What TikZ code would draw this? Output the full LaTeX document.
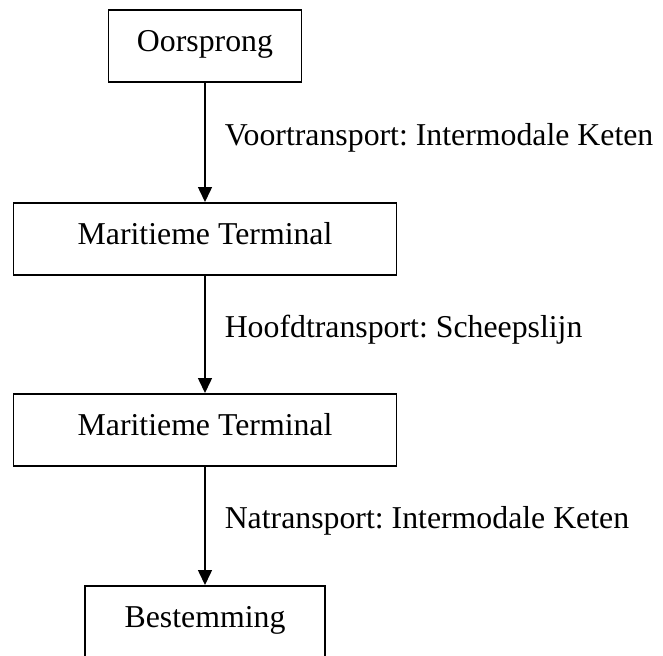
\documentclass[tikz,border=0pt]{standalone}
\usepackage{fontspec}
\setmainfont{Liberation Serif}
\usetikzlibrary{arrows.meta}
\frenchspacing

\begin{document}
\begin{tikzpicture}[
  x=1pt, y=1pt,
  every node/.style={font=\fontsize{15.9pt}{18pt}\selectfont},
  stagebox/.style={draw, line width=0.75pt, inner sep=0pt,
                   text height=21pt, text depth=15pt, anchor=north},
  flow/.style={line width=0.75pt, -{Triangle[length=7.5pt,width=7pt]}},
  flowlabel/.style={midway, anchor=base west, xshift=9.5pt, yshift=-1.5pt, inner sep=0pt}
]
  \useasboundingbox (0,0) rectangle (331.5,-327.5);

  % chain of stages, top to bottom
  \node[stagebox, minimum width=96.5pt]  (orig)  at (102.5,-4.5)   {Oorsprong};
  \node[stagebox, minimum width=191.5pt] (term1) at (102.5,-101)   {Maritieme Terminal};
  \node[stagebox, minimum width=191.5pt] (term2) at (102.5,-196.5) {Maritieme Terminal};
  \node[stagebox, minimum width=120pt]   (dest)  at (102.5,-292.5) {Bestemming};

  % transport legs between the stages
  \draw[flow] (orig.south)  -- node[flowlabel] {Voortransport: Intermodale Keten} (term1.north);
  \draw[flow] (term1.south) -- node[flowlabel] {Hoofdtransport: Scheepslijn} (term2.north);
  \draw[flow] (term2.south) -- node[flowlabel] {Natransport: Intermodale Keten} (dest.north);
\end{tikzpicture}
\end{document}
